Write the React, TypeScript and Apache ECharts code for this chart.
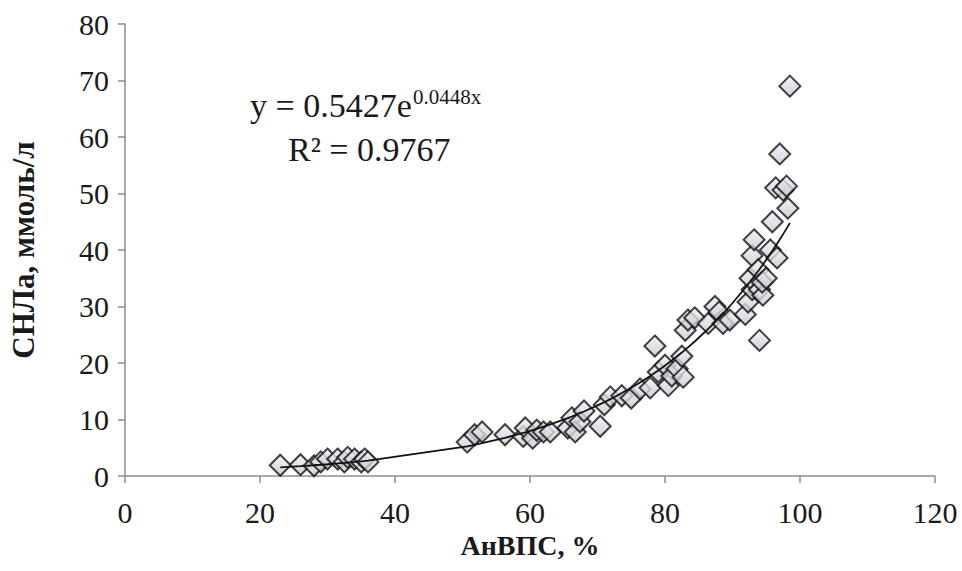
import React, { useEffect, useRef } from "react";
import * as echarts from "echarts";

// АнВПС, % (x) and СНЛа, ммоль/л (y)
const anvps: number[] = [
  23, 26, 28, 29, 30, 31.5, 32.5, 33, 34, 35, 35.5, 36,
  50.7, 51.8, 52.9, 56.3, 59, 59.3, 60.4, 61, 62, 63,
  65.6, 66.2, 66.7, 67.4, 68, 70.4, 71, 71.9, 73.6, 75, 76.3, 77.8,
  78.5, 79, 80, 80.5, 81, 81.8, 82.5, 82.7, 83, 83.4, 84.4,
  86.4, 87.4, 88, 88.6, 89.6, 91.9, 92.3, 92.9, 92.6, 92.9, 93.2,
  93.8, 94, 94.5, 94.4, 94, 95, 95.6, 95.9, 96.6, 96.4, 97, 97.5, 98, 98.2, 98.5,
];
const snla: number[] = [
  1.9, 2.0, 1.8, 2.5, 3.0, 3.0, 2.5, 3.3, 3.0, 2.5, 3.0, 2.5,
  6.0, 7.3, 7.8, 7.3, 7.0, 8.5, 6.7, 8.1, 7.8, 7.8,
  8.5, 10.3, 7.8, 9.6, 11.5, 8.8, 12.6, 14.0, 14.2, 13.8, 15.4, 15.6,
  23.0, 18.4, 19.6, 16.0, 17.7, 19.0, 21.2, 17.5, 25.8, 27.6, 28.0,
  27.0, 30.0, 29.0, 27.0, 27.6, 28.6, 30.8, 33.0, 35.0, 39.0, 41.8,
  36.5, 33.0, 32.0, 34.3, 24.0, 35.0, 40.0, 45.0, 38.6, 51.0, 57.0, 50.6, 51.3, 47.4, 69.0,
];

const xTicks = { min: 0, max: 120, interval: 20 };
const yTicks = { min: 0, max: 80, interval: 10 };

// Trendline coefficients as printed on the chart
const trendA = 0.5427;
const trendB = 0.0448;

const xTitle = "АнВПС, %";
const yTitle = "СНЛа, ммоль/л";

export default function App() {
  const ref = useRef<HTMLDivElement>(null);
  useEffect(() => {
    if (!ref.current) return;
    const chart = echarts.init(ref.current, null, { renderer: "svg" });
    const points = anvps.map((x, i) => [x, snla[i]]);
    const sortedX = Array.from(new Set(anvps)).sort((a, b) => a - b);
    const trend = sortedX.map((x) => [x, trendA * Math.exp(trendB * x)]);
    const serif = "'Liberation Serif', 'Times New Roman', serif";
    chart.setOption({
      animation: false,
      backgroundColor: "#ffffff",
      grid: { left: 125, right: 27, top: 24, bottom: 95, containLabel: false, outerBoundsMode: "none" },
      xAxis: {
        type: "value",
        min: xTicks.min,
        max: xTicks.max,
        interval: xTicks.interval,
        splitLine: { show: false },
        axisLine: { show: true, lineStyle: { color: "#8c8c8c", width: 1.5 } },
        axisTick: { show: true, length: 7, lineStyle: { color: "#8c8c8c", width: 1.5 } },
        axisLabel: { color: "#1a1a1a", fontFamily: serif, fontSize: 30, margin: 21 },
        name: xTitle,
        nameLocation: "middle",
        nameGap: 55,
        nameTextStyle: { color: "#1a1a1a", fontFamily: serif, fontSize: 28, fontWeight: "bold" },
      },
      yAxis: {
        type: "value",
        min: yTicks.min,
        max: yTicks.max,
        interval: yTicks.interval,
        splitLine: { show: false },
        axisLine: { show: true, lineStyle: { color: "#8c8c8c", width: 1.5 } },
        axisTick: { show: true, length: 7, lineStyle: { color: "#8c8c8c", width: 1.5 } },
        axisLabel: { color: "#1a1a1a", fontFamily: serif, fontSize: 30, margin: 16 },
        name: yTitle,
        nameLocation: "middle",
        nameGap: 86,
        nameTextStyle: { color: "#1a1a1a", fontFamily: serif, fontSize: 31, fontWeight: "bold" },
      },
      series: [
        {
          type: "scatter",
          data: points,
          symbol: "diamond",
          symbolSize: 21,
          itemStyle: {
            color: new echarts.graphic.LinearGradient(0, 0, 0, 1, [
              { offset: 0, color: "#eef0f4" },
              { offset: 1, color: "#c4c8d0" },
            ]),
            borderColor: "#111111",
            borderWidth: 2,
          },
          z: 2,
        },
        {
          type: "line",
          data: trend,
          showSymbol: false,
          symbol: "none",
          lineStyle: { color: "#111111", width: 1.8 },
          z: 3,
        },
      ],
      graphic: [
        {
          type: "text",
          left: 250,
          top: 88,
          style: { text: "y = 0.5427e", font: `34px ${serif}`, fill: "#1a1a1a" },
        },
        {
          type: "text",
          left: 413,
          top: 86,
          style: { text: "0.0448x", font: `21px ${serif}`, fill: "#1a1a1a" },
        },
        {
          type: "text",
          left: 288,
          top: 132,
          style: { text: "R² = 0.9767", font: `34px ${serif}`, fill: "#1a1a1a" },
        },
      ],
    });
    return () => chart.dispose();
  }, []);
  return <div ref={ref} style={{ width: 962, height: 571, position: "absolute", left: 0, top: 0 }} />;
}
